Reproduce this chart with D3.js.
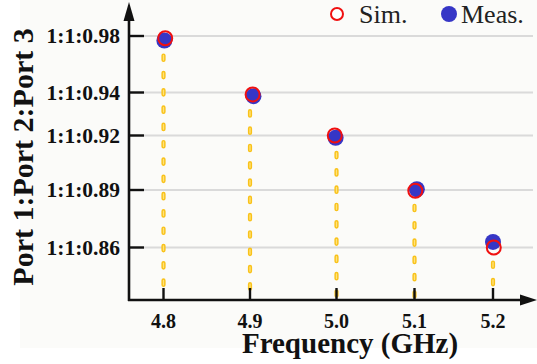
<!DOCTYPE html>
<html>
<head>
<meta charset="utf-8">
<script src="https://cdn.jsdelivr.net/npm/d3@7"></script>
<style>
  html, body { margin: 0; padding: 0; background: #ffffff; }
  svg { display: block; }
</style>
</head>
<body>
<div id="chart"></div>
<script>
// frequency ticks (GHz) and port ratio ticks
const freqTicks = [4.8, 4.9, 5.0, 5.1, 5.2];
const ratioTicks = [0.86, 0.89, 0.92, 0.94, 0.98];
const ratioLabels = ['1:1:0.86', '1:1:0.89', '1:1:0.92', '1:1:0.94', '1:1:0.98'];

// simulated points
const simFreq = [4.802, 4.903, 4.998, 5.101, 5.201];
const simRatio = [0.9784, 0.9391, 0.92, 0.8896, 0.8600];

// measured points
const measFreq = [4.801, 4.904, 4.999, 5.103, 5.2];
const measRatio = [0.9768, 0.9383, 0.9187, 0.8904, 0.8629];

const width = 537, height = 364;
const serif = '"Liberation Serif", "Times New Roman", serif';

const svg = d3.select('#chart').append('svg')
    .attr('width', width)
    .attr('height', height);

// the figure has a faint off-white plate
svg.append('rect')
    .attr('x', 20).attr('y', 0)
    .attr('width', width - 20).attr('height', 348)
    .attr('fill', '#fbfbf9');

// axis tick spacing in the figure is not even, so map tick by tick
const x = d3.scaleLinear()
    .domain(freqTicks)
    .range([163.5, 250, 336.5, 414.5, 493]);

const y = d3.scaleLinear()
    .domain(ratioTicks)
    .range([247.5, 190, 135.5, 92.5, 36]);

const axisX = 129, axisY = 300;

// grid lines
svg.append('g').selectAll('line')
    .data(ratioTicks)
    .join('line')
    .attr('x1', axisX)
    .attr('x2', 533)
    .attr('y1', d => y(d))
    .attr('y2', d => y(d))
    .attr('stroke', '#dadada')
    .attr('stroke-width', 2.2);

// dashed yellow stems from the lower marker down to the axis
const stems = freqTicks.map((f, i) => ({
    f: f,
    top: Math.min(simRatio[i], measRatio[i])
}));

const stemG = svg.append('g');
stemG.selectAll('line.outer')
    .data(stems)
    .join('line')
    .attr('class', 'outer')
    .attr('x1', d => x(d.f))
    .attr('x2', d => x(d.f))
    .attr('y1', d => y(d.top) + 15)
    .attr('y2', axisY - 3)
    .attr('stroke', '#f9c21a')
    .attr('stroke-width', 4.2)
    .attr('stroke-linecap', 'round')
    .attr('stroke-dasharray', '4.5,12.8');
stemG.selectAll('line.inner')
    .data(stems)
    .join('line')
    .attr('class', 'inner')
    .attr('x1', d => x(d.f))
    .attr('x2', d => x(d.f))
    .attr('y1', d => y(d.top) + 15)
    .attr('y2', axisY - 3)
    .attr('stroke', '#ffe27a')
    .attr('stroke-width', 1.3)
    .attr('stroke-linecap', 'round')
    .attr('stroke-dasharray', '4.5,12.8');

// axes lines with arrows
svg.append('line')
    .attr('x1', axisX).attr('x2', axisX)
    .attr('y1', axisY + 1).attr('y2', 16)
    .attr('stroke', '#111').attr('stroke-width', 2.6);
svg.append('path')
    .attr('d', `M${axisX},2 L${axisX - 5.5},21 L${axisX + 5.5},21 Z`)
    .attr('fill', '#111');

svg.append('line')
    .attr('x1', axisX - 1).attr('x2', 524)
    .attr('y1', axisY).attr('y2', axisY)
    .attr('stroke', '#111').attr('stroke-width', 2.6);
svg.append('path')
    .attr('d', `M537,${axisY} L520,${axisY - 5.5} L520,${axisY + 5.5} Z`)
    .attr('fill', '#111');

// y ticks point into the plot
svg.append('g').selectAll('line')
    .data(ratioTicks)
    .join('line')
    .attr('x1', axisX)
    .attr('x2', axisX + 15)
    .attr('y1', d => y(d))
    .attr('y2', d => y(d))
    .attr('stroke', '#111')
    .attr('stroke-width', 2.4);

svg.append('g').selectAll('line')
    .data(freqTicks)
    .join('line')
    .attr('x1', d => x(d))
    .attr('x2', d => x(d))
    .attr('y1', axisY)
    .attr('y2', axisY - 12)
    .attr('stroke', '#111')
    .attr('stroke-width', 2.4);

// tick labels
svg.append('g').selectAll('text')
    .data(ratioTicks)
    .join('text')
    .attr('x', 120)
    .attr('y', d => y(d) + 7)
    .attr('text-anchor', 'end')
    .style('font-family', serif)
    .style('font-weight', 'bold')
    .style('font-size', '21.5px')
    .style('fill', '#111')
    .text((d, i) => ratioLabels[i]);

svg.append('g').selectAll('text')
    .data(freqTicks)
    .join('text')
    .attr('x', d => x(d))
    .attr('y', 328)
    .attr('text-anchor', 'middle')
    .style('font-family', serif)
    .style('font-weight', 'bold')
    .style('font-size', '20px')
    .style('fill', '#111')
    .text(d => d.toFixed(1));

// axis titles
svg.append('text')
    .attr('x', 350)
    .attr('y', 353)
    .attr('text-anchor', 'middle')
    .style('font-family', serif)
    .style('font-weight', 'bold')
    .style('font-size', '29px')
    .style('fill', '#111')
    .text('Frequency (GHz)');

svg.append('text')
    .attr('transform', 'translate(33,157) rotate(-90)')
    .attr('text-anchor', 'middle')
    .style('font-family', serif)
    .style('font-weight', 'bold')
    .style('font-size', '30px')
    .style('fill', '#111')
    .text('Port 1:Port 2:Port 3');

// measured under, simulated on top
svg.append('g').selectAll('circle')
    .data(measFreq)
    .join('circle')
    .attr('cx', d => x(d))
    .attr('cy', (d, i) => y(measRatio[i]))
    .attr('r', 8)
    .attr('fill', '#3636c6');

svg.append('g').selectAll('circle')
    .data(simFreq)
    .join('circle')
    .attr('cx', d => x(d))
    .attr('cy', (d, i) => y(simRatio[i]))
    .attr('r', 7)
    .attr('fill', 'none')
    .attr('stroke', '#f01010')
    .attr('stroke-width', 2);

// legend
const legend = svg.append('g');
legend.append('circle')
    .attr('cx', 337).attr('cy', 14).attr('r', 6)
    .attr('fill', '#fff')
    .attr('stroke', '#f01010')
    .attr('stroke-width', 2);
legend.append('text')
    .attr('x', 359).attr('y', 23)
    .style('font-family', serif)
    .style('font-size', '26px')
    .style('fill', '#222')
    .text('Sim.');
legend.append('circle')
    .attr('cx', 449).attr('cy', 14).attr('r', 8)
    .attr('fill', '#3636c6');
legend.append('text')
    .attr('x', 461).attr('y', 23)
    .style('font-family', serif)
    .style('font-size', '26px')
    .style('fill', '#222')
    .text('Meas.');
</script>
</body>
</html>
